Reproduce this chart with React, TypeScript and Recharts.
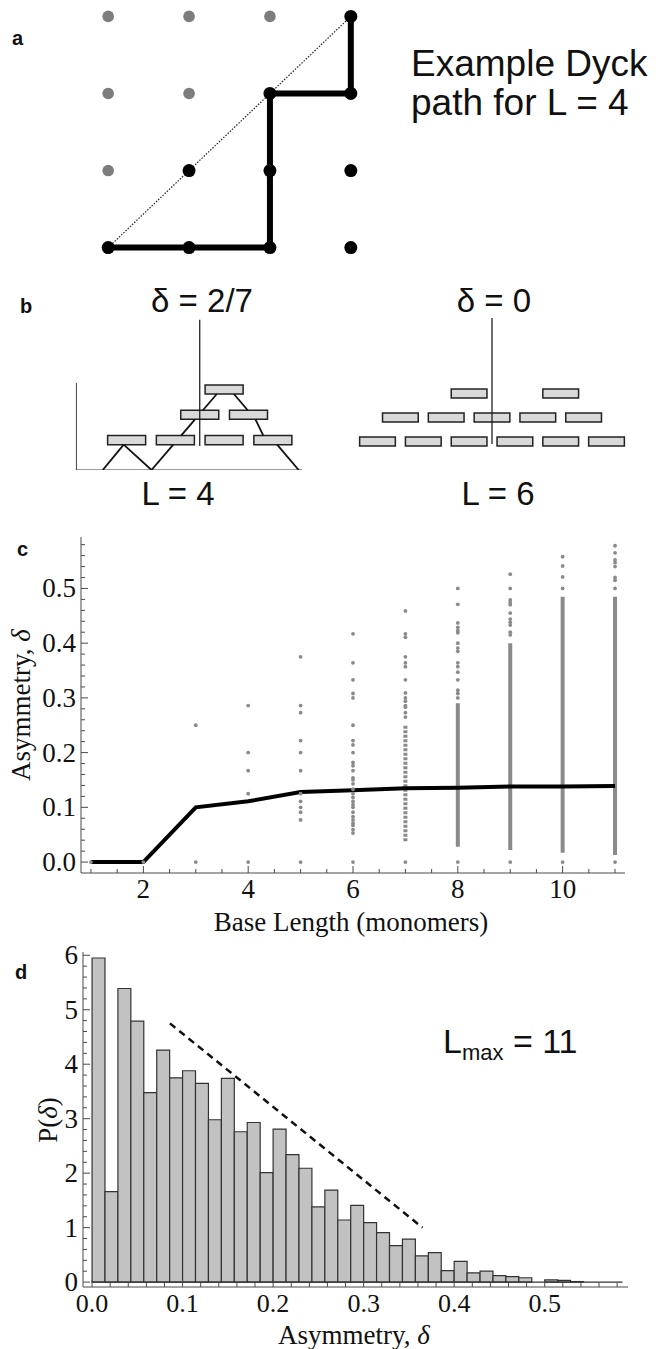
import type { ReactNode } from "react";
import {
  ComposedChart,
  Line,
  ReferenceArea,
  ReferenceLine,
  Scatter,
  XAxis,
  YAxis,
} from "recharts";

// ---------- panel a: lattice + Dyck path (L = 4) ----------
const latticeAbove = [
  { x: 0, y: 3 }, { x: 1, y: 3 }, { x: 2, y: 3 },
  { x: 0, y: 2 }, { x: 1, y: 2 },
  { x: 0, y: 1 },
];
const latticeBelow = [
  { x: 3, y: 3 },
  { x: 2, y: 2 }, { x: 3, y: 2 },
  { x: 1, y: 1 }, { x: 2, y: 1 }, { x: 3, y: 1 },
  { x: 0, y: 0 }, { x: 1, y: 0 }, { x: 2, y: 0 }, { x: 3, y: 0 },
];
const dyckPath = [
  { x: 0, y: 0 }, { x: 1, y: 0 }, { x: 2, y: 0 }, { x: 2, y: 1 },
  { x: 2, y: 2 }, { x: 3, y: 2 }, { x: 3, y: 3 },
];
const diagonal = [{ x: 0, y: 0 }, { x: 3, y: 3 }];

// ---------- panel b: monomer stacks ----------
// centres of each row of monomers, bottom row first
const pyramidRows = [[0, 1, 2, 3], [1.5, 2.5], [2]];
// visible pieces of the mountain outline (hidden parts sit behind monomers)
const pyramidLegs = [
  [{ x: -0.49, y: 0 }, { x: -0.06, y: 1 }],
  [{ x: -0.06, y: 1 }, { x: 0.51, y: 0 }],
  [{ x: 0.51, y: 0 }, { x: 0.957, y: 1 }],
  [{ x: 1.117, y: 1.36 }, { x: 1.403, y: 2 }],
  [{ x: 1.564, y: 2.36 }, { x: 1.85, y: 3 }],
  [{ x: 2.2, y: 3 }, { x: 2.484, y: 2.36 }],
  [{ x: 2.643, y: 2 }, { x: 2.804, y: 1.36 }],
  [{ x: 3.087, y: 1 }, { x: 3.53, y: 0 }],
];
const pyramidAxis = [{ x: -1.03, y: 0 }, { x: -1.03, y: 3.44 }];
const pyramidGround = [{ x: -1.03, y: 0 }, { x: 3.6, y: 0 }];
const pyramidCentre = [{ x: 1.5, y: 0.95 }, { x: 1.5, y: 5.93 }];

const flatRows = [[0, 1, 2, 3, 4, 5], [0.5, 1.5, 2.5, 3.5, 4.5], [2, 4]];
const flatCentre = [{ x: 2.5, y: 1.08 }, { x: 2.5, y: 6.33 }];

// ---------- panel c: asymmetry vs base length ----------
const deltaL1 = [0];
const deltaL2 = [0];
const deltaL3 = [0, 0.25];
const deltaL4 = [0, 0.125, 0.167, 0.2, 0.286];
const deltaL5 = [0, 0.077, 0.091, 0.1, 0.111, 0.125, 0.167, 0.2, 0.222, 0.273, 0.286, 0.375];
const deltaL6 = [
  0, 0.053, 0.059, 0.067, 0.071, 0.077, 0.083, 0.091, 0.1, 0.105, 0.111, 0.118, 0.125,
  0.133, 0.143, 0.15, 0.154, 0.167, 0.176, 0.182, 0.2, 0.214, 0.222, 0.25, 0.3, 0.308,
  0.333, 0.364, 0.417,
];
const deltaL7 = [0, 0.265, 0.273, 0.283, 0.286, 0.294, 0.3, 0.309, 0.333, 0.357, 0.364, 0.375, 0.411, 0.417, 0.459];
const deltaL8 = [0, 0.3, 0.308, 0.314, 0.333, 0.347, 0.357, 0.364, 0.385, 0.391, 0.4, 0.419, 0.423, 0.429, 0.437, 0.471, 0.5];
const deltaL9 = [0, 0.415, 0.42, 0.433, 0.438, 0.444, 0.455, 0.47, 0.474, 0.479, 0.5, 0.526];
const deltaL10 = [0, 0.5, 0.521, 0.541, 0.558];
const deltaL11 = [0, 0.5, 0.515, 0.52, 0.54, 0.547, 0.552, 0.565, 0.578];
// columns where the points merge into a continuous streak
const streakLength = [7, 8, 9, 10, 11];
const streakLow = [0.038, 0.028, 0.022, 0.017, 0.013];
const streakHigh = [0.25, 0.29, 0.4, 0.485, 0.485];
const meanLength = [1, 2, 3, 4, 5, 6, 7, 8, 9, 10, 11];
const meanDelta = [0, 0, 0.1, 0.111, 0.128, 0.131, 0.135, 0.136, 0.138, 0.138, 0.139];

// ---------- panel d: P(delta) histogram, L_max = 11 ----------
const binWidth = 1 / 70;
const pDelta = [
  5.95, 1.66, 5.39, 4.79, 3.48, 4.26, 3.75, 3.88, 3.65, 2.98, 3.74, 2.76, 2.93, 2.01,
  2.81, 2.34, 2.09, 1.38, 1.69, 1.14, 1.41, 1.09, 0.91, 0.67, 0.79, 0.48, 0.54, 0.21,
  0.38, 0.17, 0.2, 0.12, 0.1, 0.08, 0, 0.04, 0.03, 0.01,
];
const guideLine = [{ x: 0.086, y: 4.75 }, { x: 0.365, y: 1.0 }];

// axis ticks
const cXMajor = [2, 4, 6, 8, 10];
const cYMajor = [0, 0.1, 0.2, 0.3, 0.4, 0.5];
const dXMajor = [0, 0.1, 0.2, 0.3, 0.4, 0.5];
const dYMajor = [0, 1, 2, 3, 4, 5, 6];
const steps = (from: number, to: number, by: number) => {
  const out: number[] = [];
  for (let i = 0; from + i * by <= to + 1e-9; i++) out.push(+(from + i * by).toFixed(4));
  return out;
};
const cXTicks = steps(1, 11, 0.5);
const cYTicks = steps(0, 0.58, 0.02);
const dXTicks = steps(0, 0.58, 0.02);
const dYTicks = steps(0, 6, 0.2);
const dYRightTicks = steps(0, 6, 1 / 3);

const FRAME = "#4a4a4a";
const SERIF = "'Liberation Serif', 'Times New Roman', serif";
const SANS = "'Liberation Sans', Arial, Helvetica, sans-serif";
const DOT_GRAY = "#8a8a8a";

const near = (list: number[], v: number) => list.some((m) => Math.abs(m - v) < 1e-6);

// Mathematica-style frame ticks: drawn inwards, labels only on bottom/left
function frameTick(
  side: "bottom" | "top" | "left" | "right",
  majors: number[],
  fmt?: (v: number) => string,
  size = 27,
) {
  return (p: any) => {
    const { x, y } = p;
    const v = p.payload.value as number;
    const big = near(majors, v);
    const len = big ? 7 : 4;
    let c = [x, y, x, y - len];
    if (side === "top") c = [x, y, x, y + len];
    if (side === "left") c = [x, y, x + len, y];
    if (side === "right") c = [x, y, x - len, y];
    return (
      <g>
        <line x1={c[0]} y1={c[1]} x2={c[2]} y2={c[3]} stroke={FRAME} strokeWidth={1} />
        {big && fmt && side === "bottom" && (
          <text x={x} y={y + 25} textAnchor="middle" fontFamily={SERIF} fontSize={size} fill="#111">
            {fmt(v)}
          </text>
        )}
        {big && fmt && side === "left" && (
          <text x={x - 5} y={y + size * 0.33} textAnchor="end" fontFamily={SERIF} fontSize={size} fill="#111">
            {fmt(v)}
          </text>
        )}
      </g>
    );
  };
}

type TxtProps = {
  x: number;
  y: number;
  size: number;
  family?: string;
  weight?: number;
  left?: boolean;
  rotate?: boolean;
  children: ReactNode;
};

function Txt({ x, y, size, family = SANS, weight = 400, left, rotate, children }: TxtProps) {
  return (
    <div
      style={{
        position: "absolute",
        left: x,
        top: y,
        fontSize: size,
        lineHeight: `${size}px`,
        fontFamily: family,
        fontWeight: weight,
        whiteSpace: "nowrap",
        color: "#111",
        transform: `translate(${left ? "0" : "-50%"}, -50%)${rotate ? " rotate(-90deg)" : ""}`,
      }}
    >
      {children}
    </div>
  );
}

const box = (left: number, top: number): React.CSSProperties => ({ position: "absolute", left, top });

function PanelA() {
  return (
    <div style={box(92, 1)}>
      <ComposedChart width={275} height={262} margin={{ top: 0, right: 0, bottom: 0, left: 0 }}>
        <XAxis type="number" dataKey="x" domain={[-0.2, 3.2]} allowDataOverflow hide />
        <YAxis type="number" dataKey="y" domain={[-0.2, 3.2]} allowDataOverflow hide />
        <ReferenceLine segment={diagonal} stroke="#222" strokeWidth={1.2} strokeDasharray="1.5 1.5" />
        <Line data={dyckPath} dataKey="y" stroke="#000" strokeWidth={6} dot={false} isAnimationActive={false} />
        <Scatter
          data={latticeAbove}
          isAnimationActive={false}
          shape={(p: any) => <circle cx={p.cx} cy={p.cy} r={5.8} fill="#7d7d7d" />}
        />
        <Scatter
          data={latticeBelow}
          isAnimationActive={false}
          shape={(p: any) => <circle cx={p.cx} cy={p.cy} r={6.5} fill="#000" />}
        />
      </ComposedChart>
    </div>
  );
}

function Monomers({ rows, half, height }: { rows: number[][]; half: number; height: number }) {
  return rows.flatMap((row, level) =>
    row.map((c) => (
      <ReferenceArea
        key={`${level}-${c}`}
        x1={c - half}
        x2={c + half}
        y1={level + 1}
        y2={level + 1 + height}
        fill="#d9d9d9"
        fillOpacity={1}
        stroke="#222"
        strokeWidth={1.5}
      />
    )),
  );
}

function PanelB() {
  return (
    <>
      <div style={box(73, 313)}>
        <ComposedChart width={234} height={157} margin={{ top: 0, right: 0, bottom: 0, left: 0 }}>
          <XAxis type="number" dataKey="x" domain={[-1.1, 3.7]} allowDataOverflow hide />
          <YAxis type="number" dataKey="y" domain={[0, 6.2]} allowDataOverflow hide />
          <ReferenceLine segment={pyramidGround} stroke="#9a9a9a" strokeWidth={2} />
          <ReferenceLine segment={pyramidAxis} stroke="#444" strokeWidth={1} />
          {pyramidLegs.map((seg, i) => (
            <ReferenceLine key={i} segment={seg} stroke="#111" strokeWidth={1.8} />
          ))}
          {Monomers({ rows: pyramidRows, half: 0.39, height: 0.36 })}
          <ReferenceLine segment={pyramidCentre} stroke="#111" strokeWidth={1.2} />
        </ComposedChart>
      </div>
      <div style={box(350, 314)}>
        <ComposedChart width={284} height={156} margin={{ top: 0, right: 0, bottom: 0, left: 0 }}>
          <XAxis type="number" dataKey="x" domain={[-0.6, 5.6]} allowDataOverflow hide />
          <YAxis type="number" dataKey="y" domain={[0, 6.5]} allowDataOverflow hide />
          {Monomers({ rows: flatRows, half: 0.39, height: 0.375 })}
          <ReferenceLine segment={flatCentre} stroke="#111" strokeWidth={1.2} />
        </ComposedChart>
      </div>
    </>
  );
}

const columnPoints = [
  deltaL1, deltaL2, deltaL3, deltaL4, deltaL5, deltaL6, deltaL7, deltaL8, deltaL9, deltaL10, deltaL11,
].flatMap((col, i) => col.map((d) => ({ x: i + 1, y: d })));
const meanData = meanLength.map((x, i) => ({ x, y: meanDelta[i] }));

const axisCommon = {
  type: "number" as const,
  allowDataOverflow: true,
  interval: 0 as const,
  tickSize: 0,
  tickMargin: 0,
  tickLine: false,
  axisLine: { stroke: FRAME, strokeWidth: 1 },
};

function PanelC() {
  return (
    <div style={box(0, 500)}>
      <ComposedChart width={661} height={440} margin={{ top: 37, right: 36, bottom: 0, left: 0 }}>
        <XAxis
          {...axisCommon}
          dataKey="x"
          domain={[0.81, 11.19]}
          ticks={cXTicks}
          height={67}
          tick={frameTick("bottom", cXMajor, (v) => String(v))}
        />
        <XAxis {...axisCommon} xAxisId="top" orientation="top" domain={[0.81, 11.19]} ticks={cXTicks} height={0} tick={frameTick("top", cXMajor)} />
        <YAxis
          {...axisCommon}
          dataKey="y"
          domain={[-0.02, 0.594]}
          ticks={cYTicks}
          width={81}
          tick={frameTick("left", cYMajor, (v) => v.toFixed(1))}
        />
        <YAxis {...axisCommon} yAxisId="right" orientation="right" domain={[-0.02, 0.594]} ticks={cYTicks} width={0} tick={frameTick("right", cYMajor)} />
        {streakLength.map((L, i) => (
          <ReferenceLine
            key={L}
            segment={[{ x: L, y: streakLow[i] }, { x: L, y: streakHigh[i] }]}
            stroke={DOT_GRAY}
            strokeWidth={4}
            strokeDasharray={L === 7 ? "3 1.5" : undefined}
          />
        ))}
        <Scatter
          data={columnPoints}
          isAnimationActive={false}
          shape={(p: any) => <circle cx={p.cx} cy={p.cy} r={1.9} fill={DOT_GRAY} />}
        />
        <Line data={meanData} dataKey="y" stroke="#000" strokeWidth={4} dot={false} isAnimationActive={false} />
      </ComposedChart>
    </div>
  );
}

function PanelD() {
  return (
    <div style={box(0, 915)}>
      <ComposedChart width={661} height={420} margin={{ top: 37, right: 33, bottom: 0, left: 0 }}>
        <XAxis
          {...axisCommon}
          dataKey="x"
          domain={[-0.01, 0.592]}
          ticks={dXTicks}
          height={48}
          tick={frameTick("bottom", dXMajor, (v) => v.toFixed(1), 26)}
        />
        <XAxis {...axisCommon} xAxisId="top" orientation="top" domain={[-0.01, 0.592]} ticks={dXTicks} height={0} tick={frameTick("top", dXMajor)} />
        <YAxis
          {...axisCommon}
          dataKey="y"
          domain={[-0.09, 6.06]}
          ticks={dYTicks}
          width={83}
          tick={frameTick("left", dYMajor, (v) => String(Math.round(v)))}
        />
        <YAxis {...axisCommon} yAxisId="right" orientation="right" domain={[-0.09, 6.06]} ticks={dYRightTicks} width={0} tick={frameTick("right", dYMajor)} />
        <ReferenceLine segment={[{ x: 0, y: 0 }, { x: 0.586, y: 0 }]} stroke="#333" strokeWidth={1.2} />
        {pDelta.map((h, i) =>
          h > 0 ? (
            <ReferenceArea
              key={i}
              x1={i * binWidth}
              x2={(i + 1) * binWidth}
              y1={0}
              y2={h}
              fill="#c2c2c2"
              fillOpacity={1}
              stroke="#333"
              strokeWidth={1.2}
            />
          ) : null,
        )}
        <ReferenceLine segment={guideLine} stroke="#111" strokeWidth={2.5} strokeDasharray="7 5" />
      </ComposedChart>
    </div>
  );
}

export default function App() {
  return (
    <div style={{ position: "absolute", left: 0, top: 0, width: 661, height: 1349, background: "#fff", overflow: "hidden" }}>
      <PanelA />
      <PanelB />
      <PanelC />
      <PanelD />

      <Txt x={12} y={38} size={20} weight={700} left>a</Txt>
      <Txt x={411} y={63} size={37} left>Example Dyck</Txt>
      <Txt x={411} y={102} size={37} left>path for L = 4</Txt>

      <Txt x={20} y={306} size={20} weight={700} left>b</Txt>
      <Txt x={202} y={300} size={33}>δ = 2/7</Txt>
      <Txt x={494} y={300} size={33}>δ = 0</Txt>
      <Txt x={178} y={493} size={33}>L = 4</Txt>
      <Txt x={498} y={493} size={33}>L = 6</Txt>

      <Txt x={17} y={549} size={20} weight={700} left>c</Txt>
      <Txt x={21} y={705} size={27} family={SERIF} rotate>
        Asymmetry, <i>δ</i>
      </Txt>
      <Txt x={351} y={922} size={27} family={SERIF}>Base Length (monomers)</Txt>

      <Txt x={15} y={972} size={20} weight={700} left>d</Txt>
      <Txt x={48} y={1120} size={27} family={SERIF} rotate>
        P(<i>δ</i>)
      </Txt>
      <Txt x={354} y={1335} size={27} family={SERIF}>
        Asymmetry, <i>δ</i>
      </Txt>
      <Txt x={443} y={1047} size={34} left>
        L<sub style={{ fontSize: 22, verticalAlign: "-0.35em" }}>max</sub> = 11
      </Txt>
    </div>
  );
}
